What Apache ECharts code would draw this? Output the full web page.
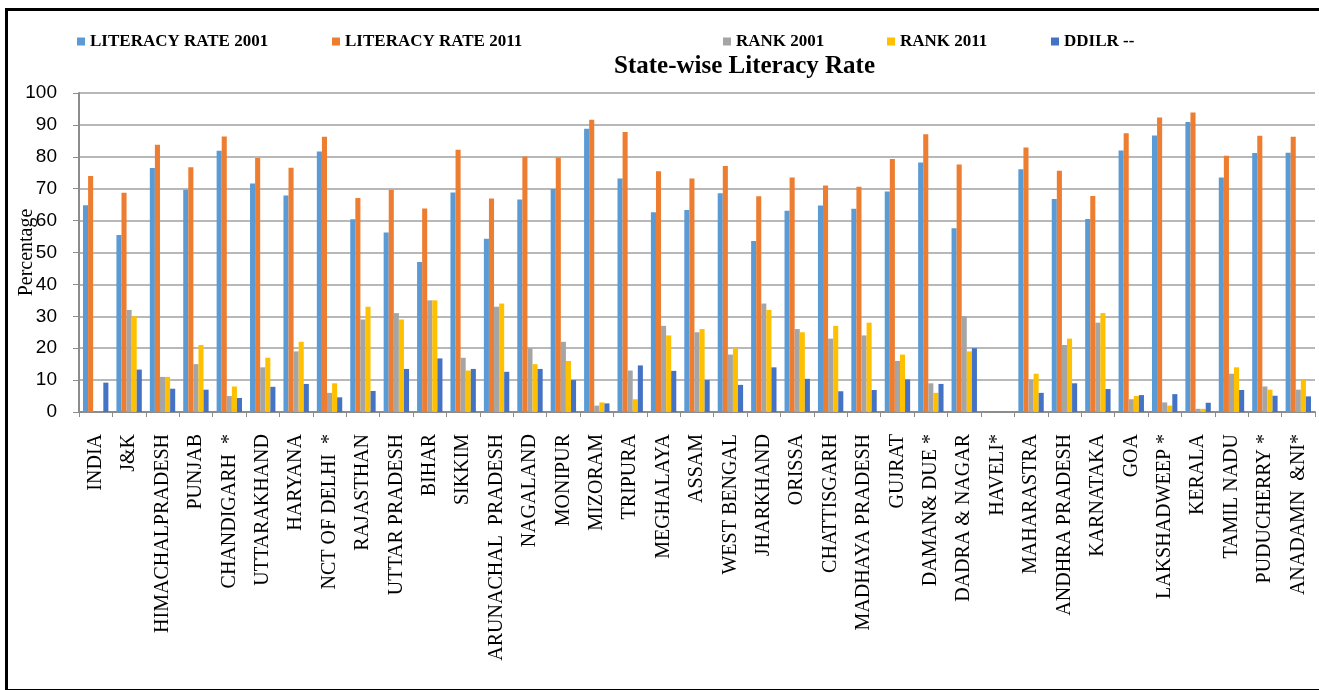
<!DOCTYPE html>
<html>
<head>
<meta charset="utf-8">
<title>State-wise Literacy Rate</title>
<script src="https://cdn.jsdelivr.net/npm/echarts@6/dist/echarts.min.js"></script>
<style>
  html, body { margin: 0; padding: 0; background: #fff; overflow: hidden; width: 1319px; height: 690px; }
  #chart { position: absolute; left: 0; top: 0; width: 1319px; height: 690px; }
  .frame { position: absolute; left: 5px; top: 8px; width: 1400px; height: 684px;
           box-sizing: border-box; border: 3px solid #000; pointer-events: none; }
</style>
</head>
<body>
<div id="chart"></div>
<div class="frame"></div>
<script>
// categories along the x axis
var states = ["INDIA", "J&K", "HIMACHALPRADESH", "PUNJAB", "CHANDIGARH  *", "UTTARAKHAND",
  "HARYANA", "NCT OF DELHI  *", "RAJASTHAN", "UTTAR PRADESH", "BIHAR", "SIKKIM",
  "ARUNACHAL  PRADESH", "NAGALAND", "MONIPUR", "MIZORAM", "TRIPURA", "MEGHALAYA",
  "ASSAM", "WEST BENGAL", "JHARKHAND", "ORISSA", "CHATTISGARH", "MADHAYA PRADESH",
  "GUJRAT", "DAMAN& DUE *", "DADRA & NAGAR", "HAVELI*", "MAHARASTRA", "ANDHRA PRADESH",
  "KARNATAKA", "GOA", "LAKSHADWEEP *", "KERALA", "TAMIL NADU", "PUDUCHERRY *", "ANADAMN  &NI*"];

var literacy2001 = [64.8, 55.5, 76.5, 69.7, 81.9, 71.6, 67.9, 81.7, 60.4, 56.3, 47.0, 68.8,
  54.3, 66.6, 69.9, 88.8, 73.2, 62.6, 63.3, 68.6, 53.6, 63.1, 64.7, 63.7, 69.1, 78.2, 57.6,
  null, 76.1, 66.8, 60.5, 82.0, 86.7, 90.9, 73.5, 81.2, 81.3];
var literacy2011 = [74.0, 68.7, 83.8, 76.7, 86.4, 79.6, 76.6, 86.3, 67.1, 69.7, 63.8, 82.2,
  66.9, 80.1, 79.8, 91.6, 87.8, 75.5, 73.2, 77.1, 67.6, 73.5, 71.0, 70.6, 79.3, 87.1, 77.6,
  null, 82.9, 75.6, 67.7, 87.4, 92.3, 93.9, 80.3, 86.6, 86.3];
var rank2001 = [null, 32, 11, 15, 5, 14, 19, 6, 29, 31, 35, 17, 33, 20, 22, 2, 13, 27, 25, 18,
  34, 26, 23, 24, 16, 9, 30, null, 10, 21, 28, 4, 3, 1, 12, 8, 7];
var rank2011 = [null, 30, 11, 21, 8, 17, 22, 9, 33, 29, 35, 13, 34, 15, 16, 3, 4, 24, 26, 20,
  32, 25, 27, 28, 18, 6, 19, null, 12, 23, 31, 5, 2, 1, 14, 7, 10];
var ddilr = [9.2, 13.3, 7.3, 7.0, 4.4, 7.9, 8.8, 4.6, 6.6, 13.5, 16.8, 13.5, 12.6, 13.5, 10.0,
  2.7, 14.6, 12.9, 10.0, 8.5, 14.0, 10.4, 6.5, 6.9, 10.2, 8.8, 20.0, null, 6.0, 9.0, 7.2,
  5.3, 5.6, 2.9, 6.9, 5.1, 4.9];

var yTicks = [0, 100, 10];
var seriesNames = ["LITERACY RATE 2001", "LITERACY RATE 2011", "RANK 2001", "RANK 2011", "DDILR --"];
var seriesColors = ["#5B9BD5", "#ED7D31", "#A5A5A5", "#FFC000", "#4472C4"];
var seriesData = [literacy2001, literacy2011, rank2001, rank2011, ddilr];
var legendLeft = [72, 327, 718, 882, 1046];

var serif = "'Liberation Serif', 'Times New Roman', serif";

var myChart = echarts.init(document.getElementById("chart"));

var series = seriesNames.map(function (name, i) {
  return {
    name: name,
    type: "bar",
    barGap: "0%",
    barCategoryGap: "24%",
    itemStyle: { color: seriesColors[i] },
    data: seriesData[i].map(function (v) { return v === null ? "-" : v; })
  };
});

var legends = seriesNames.map(function (name, i) {
  return {
    data: [name],
    left: legendLeft[i],
    top: 28,
    itemWidth: 8,
    itemHeight: 8,
    icon: "rect",
    textStyle: { fontFamily: serif, fontWeight: "bold", fontSize: 17, color: "#000" }
  };
});

myChart.setOption({
  animation: false,
  title: {
    text: "State-wise Literacy Rate",
    left: 609,
    top: 49,
    textStyle: { fontFamily: serif, fontWeight: "bold", fontSize: 25, color: "#000" }
  },
  legend: legends,
  grid: { left: 79, right: 4, top: 93, bottom: 278, containLabel: false, outerBoundsMode: "none" },
  xAxis: {
    type: "category",
    data: states,
    axisLine: { lineStyle: { color: "#8c8c8c", width: 2 } },
    axisTick: { show: true, length: 5, lineStyle: { color: "#8c8c8c" } },
    axisLabel: {
      rotate: 90,
      interval: 0,
      margin: 22,
      fontFamily: serif,
      fontSize: 20,
      color: "#000"
    }
  },
  yAxis: {
    type: "value",
    min: yTicks[0],
    max: yTicks[1],
    interval: yTicks[2],
    name: "Percentage",
    nameLocation: "middle",
    nameGap: 42,
    nameMoveOverlap: false,
    nameTextStyle: { fontFamily: serif, fontSize: 20, color: "#000" },
    axisLine: { show: true, lineStyle: { color: "#8c8c8c", width: 2 } },
    axisTick: { show: true, length: 6, lineStyle: { color: "#8c8c8c" } },
    axisLabel: {
      margin: 22,
      fontFamily: "'Liberation Sans', Arial, sans-serif",
      fontSize: 19,
      color: "#000"
    },
    splitLine: { show: true, lineStyle: { color: "#a0a0a0", width: 1.5 } }
  },
  series: series
});
</script>
</body>
</html>
